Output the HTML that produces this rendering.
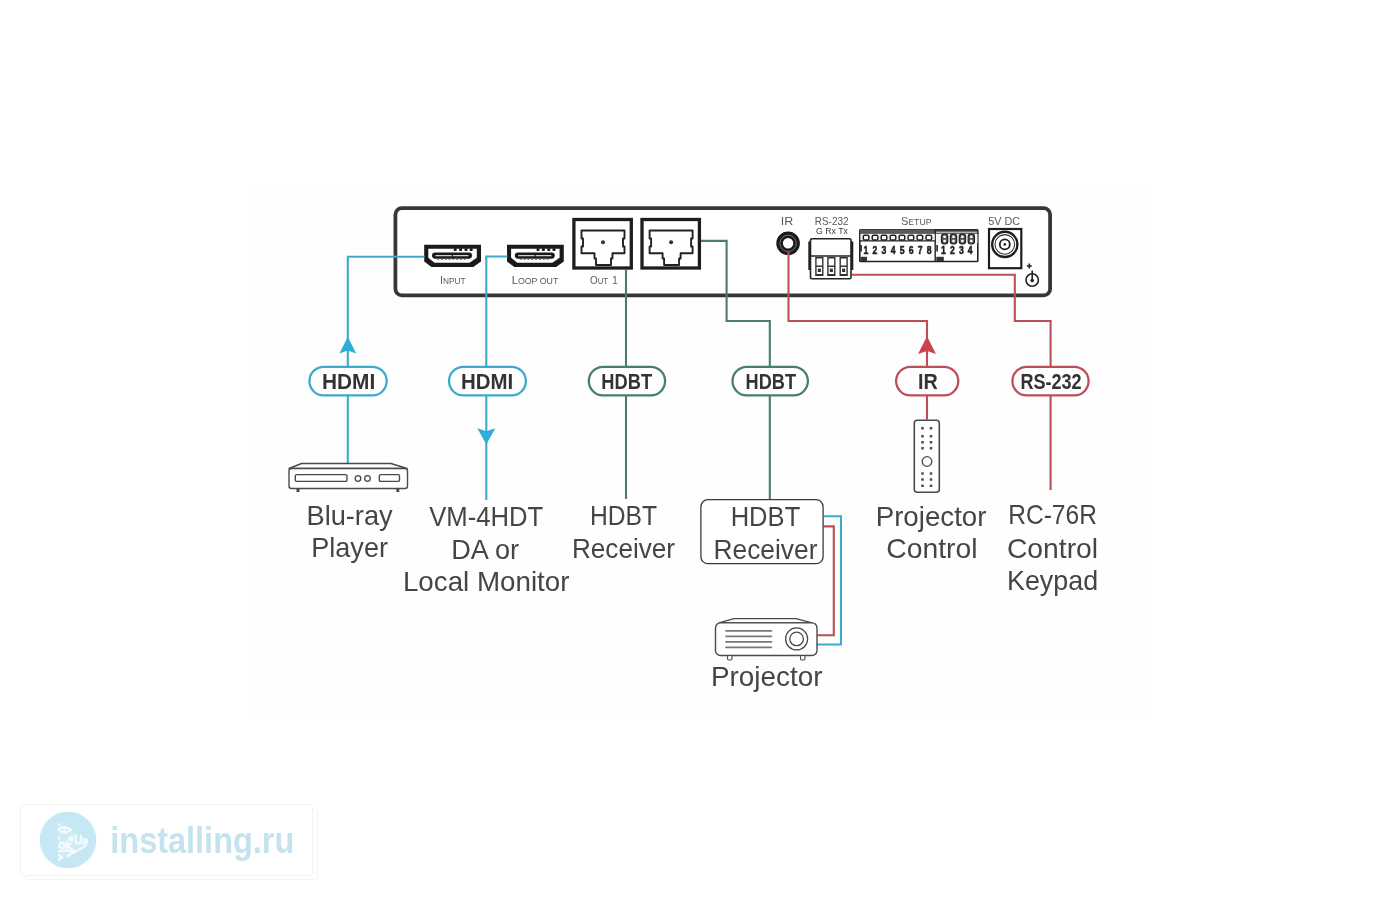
<!DOCTYPE html>
<html><head><meta charset="utf-8"><title>diagram</title>
<style>
html,body{margin:0;padding:0;background:#ffffff;}
body{width:1400px;height:900px;overflow:hidden;}
svg{display:block;font-family:"Liberation Sans", sans-serif;will-change:transform;}
</style></head><body>
<svg width="1400" height="900" viewBox="0 0 1400 900">
<rect x="0" y="0" width="1400" height="900" fill="#ffffff"/>
<rect x="248" y="186" width="904" height="534" fill="#fefefe"/>
<rect x="395.4" y="208.1" width="654.7" height="87.3" rx="6.5" fill="#ffffff" stroke="#373737" stroke-width="3.8"/>
<path d="M424.2 244.8 H481.0 V261.6 L473.3 267 H431.5 L424.2 261.6 Z" fill="#1a1a1a"/>
<path d="M428.3 248.8 H476.8 V257.8 L469.5 262.8 H434.5 L428.3 257.8 Z" fill="#ffffff"/>
<rect x="432.0" y="252.5" width="40" height="6.2" rx="3.1" fill="#1a1a1a"/>
<line x1="435.5" y1="255.6" x2="468.5" y2="255.6" stroke="#d0d0d0" stroke-width="1.2"/>
<line x1="452.3" y1="253" x2="452.3" y2="258" stroke="#1a1a1a" stroke-width="1.2"/>
<rect x="453.7" y="248.2" width="3" height="2.9" rx="0.8" fill="#1a1a1a"/>
<rect x="459.1" y="248.2" width="3" height="2.9" rx="0.8" fill="#1a1a1a"/>
<rect x="464.5" y="248.2" width="3" height="2.9" rx="0.8" fill="#1a1a1a"/>
<rect x="469.7" y="248.2" width="3" height="2.9" rx="0.8" fill="#1a1a1a"/>
<path d="M437.0 259.3 H467.0" stroke="#666" stroke-width="1.1" stroke-dasharray="2.2 1.6"/>
<path d="M507.0 244.8 H563.8 V261.6 L556.1 267 H514.3 L507.0 261.6 Z" fill="#1a1a1a"/>
<path d="M511.1 248.8 H559.6 V257.8 L552.3 262.8 H517.3 L511.1 257.8 Z" fill="#ffffff"/>
<rect x="514.8" y="252.5" width="40" height="6.2" rx="3.1" fill="#1a1a1a"/>
<line x1="518.3" y1="255.6" x2="551.3" y2="255.6" stroke="#d0d0d0" stroke-width="1.2"/>
<line x1="535.1" y1="253" x2="535.1" y2="258" stroke="#1a1a1a" stroke-width="1.2"/>
<rect x="536.5" y="248.2" width="3" height="2.9" rx="0.8" fill="#1a1a1a"/>
<rect x="541.9" y="248.2" width="3" height="2.9" rx="0.8" fill="#1a1a1a"/>
<rect x="547.3" y="248.2" width="3" height="2.9" rx="0.8" fill="#1a1a1a"/>
<rect x="552.5" y="248.2" width="3" height="2.9" rx="0.8" fill="#1a1a1a"/>
<path d="M519.8 259.3 H549.8" stroke="#666" stroke-width="1.1" stroke-dasharray="2.2 1.6"/>
<text x="440" y="284.4" textLength="25.5" lengthAdjust="spacingAndGlyphs" fill="#585858"><tspan font-size="11.2">I</tspan><tspan font-size="8.9">NPUT</tspan></text>
<text x="511.7" y="284.4" textLength="46.6" lengthAdjust="spacingAndGlyphs" fill="#585858"><tspan font-size="11.2">L</tspan><tspan font-size="8.9">OOP OUT</tspan></text>
<text x="590" y="284.2" textLength="27.8" lengthAdjust="spacingAndGlyphs" fill="#585858"><tspan font-size="11.2">O</tspan><tspan font-size="8.9">UT  </tspan><tspan font-size="11.2">1</tspan></text>
<rect x="573.9" y="219.5" width="57.4" height="48.5" fill="#ffffff" stroke="#1e1e1e" stroke-width="3.3"/>
<path d="M581.5 230.5 H624.5 V238.5 H623.0 V246.5 H624.5 V253.2 H612.5 V258.5 H611.0 V265 H596.0 V258.5 H594.5 V253.2 H581.5 V246.5 H583.0 V238.5 H581.5 Z" fill="#ffffff" stroke="#222" stroke-width="1.9" stroke-linejoin="round"/>
<circle cx="603.0" cy="242.2" r="2.0" fill="#333"/>
<rect x="642.0" y="219.5" width="57.4" height="48.5" fill="#ffffff" stroke="#1e1e1e" stroke-width="3.3"/>
<path d="M649.6 230.5 H692.6 V238.5 H691.1 V246.5 H692.6 V253.2 H680.6 V258.5 H679.1 V265 H664.1 V258.5 H662.6 V253.2 H649.6 V246.5 H651.1 V238.5 H649.6 Z" fill="#ffffff" stroke="#222" stroke-width="1.9" stroke-linejoin="round"/>
<circle cx="671.1" cy="242.2" r="2.0" fill="#333"/>
<text x="780.75" y="224.8" textLength="12.5" lengthAdjust="spacingAndGlyphs" font-size="10.3" font-weight="normal" fill="#585858" >IR</text>
<text x="814.84" y="224.8" textLength="33.63" lengthAdjust="spacingAndGlyphs" font-size="10.3" font-weight="normal" fill="#585858" >RS-232</text>
<text x="816.0" y="233.7" textLength="32.0" lengthAdjust="spacingAndGlyphs" font-size="9.6" font-weight="normal" fill="#404040" >G Rx Tx</text>
<text x="901" y="225" textLength="30.5" lengthAdjust="spacingAndGlyphs" fill="#585858"><tspan font-size="11.2">S</tspan><tspan font-size="8.9">ETUP</tspan></text>
<text x="988.23" y="224.5" textLength="31.95" lengthAdjust="spacingAndGlyphs" font-size="10.3" font-weight="normal" fill="#585858" >5V DC</text>
<circle cx="788.1" cy="243.3" r="8.5" fill="#ffffff" stroke="#1a1a1a" stroke-width="6.6"/>
<circle cx="788.1" cy="243.3" r="8.2" fill="none" stroke="#8a8a8a" stroke-width="0.8"/>
<rect x="808.3" y="241.5" width="3.4" height="28.5" fill="#222"/>
<rect x="849.9" y="241.5" width="3.4" height="28.5" fill="#222"/>
<rect x="810.5" y="238.8" width="40.5" height="40" rx="1.5" fill="#ffffff" stroke="#222" stroke-width="1.6"/>
<line x1="810.5" y1="256" x2="851" y2="256" stroke="#222" stroke-width="1.6"/>
<rect x="815.2" y="257" width="8.3" height="19" fill="#333"/>
<rect x="816.6" y="258.5" width="5.5" height="7" fill="#ffffff"/>
<rect x="816.6" y="267" width="5.5" height="7" fill="#ffffff"/>
<rect x="817.8000000000001" y="268.6" width="3.1" height="3.4" fill="#333"/>
<rect x="827.2" y="257" width="8.3" height="19" fill="#333"/>
<rect x="828.6" y="258.5" width="5.5" height="7" fill="#ffffff"/>
<rect x="828.6" y="267" width="5.5" height="7" fill="#ffffff"/>
<rect x="829.8000000000001" y="268.6" width="3.1" height="3.4" fill="#333"/>
<rect x="839.5" y="257" width="8.3" height="19" fill="#333"/>
<rect x="840.9" y="258.5" width="5.5" height="7" fill="#ffffff"/>
<rect x="840.9" y="267" width="5.5" height="7" fill="#ffffff"/>
<rect x="842.1" y="268.6" width="3.1" height="3.4" fill="#333"/>
<rect x="859.8" y="229.8" width="118" height="31.7" rx="0.8" fill="#ffffff" stroke="#222" stroke-width="1.6"/>
<rect x="859.8" y="229.5" width="76" height="4.4" fill="#5a5a5a"/>
<rect x="935.8" y="229.5" width="42" height="2.2" fill="#3a3a3a"/>
<rect x="936" y="232.6" width="41.5" height="1.2" fill="#444"/>
<line x1="935.2" y1="229.5" x2="935.2" y2="261.5" stroke="#222" stroke-width="1.4"/>
<rect x="860.6" y="234" width="74" height="7" fill="#efefef"/>
<rect x="863.3000000000001" y="235.3" width="5.6" height="4.8" rx="1.4" fill="#ffffff" stroke="#222" stroke-width="1.5"/>
<rect x="872.2600000000001" y="235.3" width="5.6" height="4.8" rx="1.4" fill="#ffffff" stroke="#222" stroke-width="1.5"/>
<rect x="881.22" y="235.3" width="5.6" height="4.8" rx="1.4" fill="#ffffff" stroke="#222" stroke-width="1.5"/>
<rect x="890.1800000000001" y="235.3" width="5.6" height="4.8" rx="1.4" fill="#ffffff" stroke="#222" stroke-width="1.5"/>
<rect x="899.1400000000001" y="235.3" width="5.6" height="4.8" rx="1.4" fill="#ffffff" stroke="#222" stroke-width="1.5"/>
<rect x="908.1" y="235.3" width="5.6" height="4.8" rx="1.4" fill="#ffffff" stroke="#222" stroke-width="1.5"/>
<rect x="917.0600000000001" y="235.3" width="5.6" height="4.8" rx="1.4" fill="#ffffff" stroke="#222" stroke-width="1.5"/>
<rect x="926.0200000000001" y="235.3" width="5.6" height="4.8" rx="1.4" fill="#ffffff" stroke="#222" stroke-width="1.5"/>
<line x1="860" y1="240.8" x2="935" y2="240.8" stroke="#222" stroke-width="1.2"/>
<rect x="936" y="234" width="41.5" height="9" fill="#f2f2f2"/>
<rect x="941.5" y="234.2" width="6.2" height="9.6" rx="2.4" fill="#555" stroke="#222" stroke-width="1.2"/>
<rect x="943.4" y="235.6" width="2.4" height="2.4" fill="#ffffff"/>
<rect x="943.4" y="239.8" width="2.4" height="2.4" fill="#ffffff"/>
<rect x="950.4" y="234.2" width="6.2" height="9.6" rx="2.4" fill="#555" stroke="#222" stroke-width="1.2"/>
<rect x="952.3" y="235.6" width="2.4" height="2.4" fill="#ffffff"/>
<rect x="952.3" y="239.8" width="2.4" height="2.4" fill="#ffffff"/>
<rect x="959.3" y="234.2" width="6.2" height="9.6" rx="2.4" fill="#555" stroke="#222" stroke-width="1.2"/>
<rect x="961.1999999999999" y="235.6" width="2.4" height="2.4" fill="#ffffff"/>
<rect x="961.1999999999999" y="239.8" width="2.4" height="2.4" fill="#ffffff"/>
<rect x="968.2" y="234.2" width="6.2" height="9.6" rx="2.4" fill="#555" stroke="#222" stroke-width="1.2"/>
<rect x="970.1" y="235.6" width="2.4" height="2.4" fill="#ffffff"/>
<rect x="970.1" y="239.8" width="2.4" height="2.4" fill="#ffffff"/>
<text x="863.5" y="253.9" textLength="4.8" lengthAdjust="spacingAndGlyphs" font-size="10.2" font-weight="bold" fill="#1e1e1e" stroke="#1e1e1e" stroke-width="0.5">1</text>
<text x="872.55" y="253.9" textLength="4.8" lengthAdjust="spacingAndGlyphs" font-size="10.2" font-weight="bold" fill="#1e1e1e" stroke="#1e1e1e" stroke-width="0.5">2</text>
<text x="881.6" y="253.9" textLength="4.8" lengthAdjust="spacingAndGlyphs" font-size="10.2" font-weight="bold" fill="#1e1e1e" stroke="#1e1e1e" stroke-width="0.5">3</text>
<text x="890.65" y="253.9" textLength="4.8" lengthAdjust="spacingAndGlyphs" font-size="10.2" font-weight="bold" fill="#1e1e1e" stroke="#1e1e1e" stroke-width="0.5">4</text>
<text x="899.7" y="253.9" textLength="4.8" lengthAdjust="spacingAndGlyphs" font-size="10.2" font-weight="bold" fill="#1e1e1e" stroke="#1e1e1e" stroke-width="0.5">5</text>
<text x="908.75" y="253.9" textLength="4.8" lengthAdjust="spacingAndGlyphs" font-size="10.2" font-weight="bold" fill="#1e1e1e" stroke="#1e1e1e" stroke-width="0.5">6</text>
<text x="917.8" y="253.9" textLength="4.8" lengthAdjust="spacingAndGlyphs" font-size="10.2" font-weight="bold" fill="#1e1e1e" stroke="#1e1e1e" stroke-width="0.5">7</text>
<text x="926.85" y="253.9" textLength="4.8" lengthAdjust="spacingAndGlyphs" font-size="10.2" font-weight="bold" fill="#1e1e1e" stroke="#1e1e1e" stroke-width="0.5">8</text>
<text x="941.0" y="253.9" textLength="4.8" lengthAdjust="spacingAndGlyphs" font-size="10.2" font-weight="bold" fill="#1e1e1e" stroke="#1e1e1e" stroke-width="0.5">1</text>
<text x="949.95" y="253.9" textLength="4.8" lengthAdjust="spacingAndGlyphs" font-size="10.2" font-weight="bold" fill="#1e1e1e" stroke="#1e1e1e" stroke-width="0.5">2</text>
<text x="958.9" y="253.9" textLength="4.8" lengthAdjust="spacingAndGlyphs" font-size="10.2" font-weight="bold" fill="#1e1e1e" stroke="#1e1e1e" stroke-width="0.5">3</text>
<text x="967.85" y="253.9" textLength="4.8" lengthAdjust="spacingAndGlyphs" font-size="10.2" font-weight="bold" fill="#1e1e1e" stroke="#1e1e1e" stroke-width="0.5">4</text>
<rect x="860.5" y="256.8" width="6.5" height="4.2" fill="#333"/>
<rect x="936.3" y="256.8" width="7.5" height="4.2" fill="#333"/>
<rect x="860.3" y="245" width="1.6" height="6.5" fill="#222"/>
<rect x="936.3" y="245" width="1.6" height="6.5" fill="#222"/>
<rect x="989" y="229" width="32.3" height="39.2" fill="#ffffff" stroke="#1e1e1e" stroke-width="2.2"/>
<circle cx="1004.8" cy="244.4" r="12.6" fill="#ffffff" stroke="#1e1e1e" stroke-width="2.4"/>
<circle cx="1004.8" cy="244.4" r="9.8" fill="none" stroke="#333" stroke-width="1.1"/>
<circle cx="1004.8" cy="244.4" r="5" fill="none" stroke="#1e1e1e" stroke-width="1.8"/>
<circle cx="1004.8" cy="244.4" r="1.3" fill="#1e1e1e"/>
<path d="M1026.8 266 H1031.8 M1029.3 263.5 V268.5" stroke="#222" stroke-width="1.6"/>
<circle cx="1032.2" cy="280" r="6.2" fill="none" stroke="#222" stroke-width="1.6"/>
<line x1="1032.2" y1="270.5" x2="1032.2" y2="280" stroke="#222" stroke-width="1.6"/>
<circle cx="1032.2" cy="280.5" r="1.8" fill="#222"/>
<path d="M424.5 256.8 L347.8 256.8 L347.8 463.5" fill="none" stroke="#3eaacb" stroke-width="2.1" stroke-linejoin="miter"/>
<path d="M507.5 256.5 L486.3 256.5 L486.3 500" fill="none" stroke="#3eaacb" stroke-width="2.1" stroke-linejoin="miter"/>
<path d="M626 269.5 L626 499" fill="none" stroke="#4a7d6a" stroke-width="2.1" stroke-linejoin="miter"/>
<path d="M701 240.9 L726.6 240.9 L726.6 321 L769.8 321 L769.8 499" fill="none" stroke="#4a7d6a" stroke-width="2.1" stroke-linejoin="miter"/>
<path d="M788.5 252 L788.5 321 L927 321 L927 419.5" fill="none" stroke="#bb4f57" stroke-width="2.1" stroke-linejoin="miter"/>
<path d="M852 274.8 L1014.8 274.8 L1014.8 321 L1050.6 321 L1050.6 490" fill="none" stroke="#bb4f57" stroke-width="2.1" stroke-linejoin="miter"/>
<path d="M823.5 516.2 L841 516.2 L841 644.5 L817 644.5" fill="none" stroke="#3eaacb" stroke-width="2.1" stroke-linejoin="miter"/>
<path d="M823.5 526.4 L833.8 526.4 L833.8 635.2 L817 635.2" fill="none" stroke="#bb4f57" stroke-width="2.1" stroke-linejoin="miter"/>
<path d="M347.8 336.7 L356.2 353.5 L347.8 350.5 L339.40000000000003 353.5 Z" fill="#2eadd5"/>
<path d="M486.3 444.5 L495.3 428.2 L486.3 431.2 L477.3 428.2 Z" fill="#2eadd5"/>
<path d="M927 336.3 L936 354 L927 351 L918 354 Z" fill="#c9424c"/>
<rect x="309.40000000000003" y="366.8" width="77.3" height="28.6" rx="14.3" fill="#ffffff" stroke="#3eaacb" stroke-width="2.3"/>
<text x="322.02" y="388.7" textLength="53.23" lengthAdjust="spacingAndGlyphs" font-size="21.4" font-weight="bold" fill="#333333" >HDMI</text>
<rect x="449.0" y="366.8" width="76.90000000000002" height="28.6" rx="14.3" fill="#ffffff" stroke="#3eaacb" stroke-width="2.3"/>
<text x="460.88" y="388.7" textLength="52.26" lengthAdjust="spacingAndGlyphs" font-size="21.4" font-weight="bold" fill="#333333" >HDMI</text>
<rect x="588.8000000000001" y="366.8" width="76.3" height="28.6" rx="14.3" fill="#ffffff" stroke="#4a7d6a" stroke-width="2.3"/>
<text x="601.37" y="388.7" textLength="50.69" lengthAdjust="spacingAndGlyphs" font-size="21.4" font-weight="bold" fill="#333333" >HDBT</text>
<rect x="732.5" y="366.8" width="75.40000000000002" height="28.6" rx="14.3" fill="#ffffff" stroke="#4a7d6a" stroke-width="2.3"/>
<text x="745.62" y="388.7" textLength="50.44" lengthAdjust="spacingAndGlyphs" font-size="21.4" font-weight="bold" fill="#333333" >HDBT</text>
<rect x="896.1" y="366.8" width="62.199999999999974" height="28.6" rx="14.3" fill="#ffffff" stroke="#bb4f57" stroke-width="2.3"/>
<text x="918.09" y="388.7" textLength="19.79" lengthAdjust="spacingAndGlyphs" font-size="21.4" font-weight="bold" fill="#333333" >IR</text>
<rect x="1012.4" y="366.8" width="76.20000000000009" height="28.6" rx="14.3" fill="#ffffff" stroke="#bb4f57" stroke-width="2.3"/>
<text x="1020.4" y="388.7" textLength="61.17" lengthAdjust="spacingAndGlyphs" font-size="21.4" font-weight="bold" fill="#333333" >RS-232</text>
<path d="M301.5 463.5 H391 L407 468.5 H289 Z" fill="#ffffff" stroke="#4a4a4a" stroke-width="1.4" stroke-linejoin="round"/>
<rect x="289" y="468.5" width="118.5" height="20" rx="2.5" fill="#ffffff" stroke="#4a4a4a" stroke-width="1.4"/>
<rect x="295.3" y="474.6" width="51.7" height="6.8" rx="1.5" fill="none" stroke="#4a4a4a" stroke-width="1.4"/>
<circle cx="358" cy="478.5" r="2.8" fill="none" stroke="#4a4a4a" stroke-width="1.3"/>
<circle cx="367.5" cy="478.5" r="2.8" fill="none" stroke="#4a4a4a" stroke-width="1.3"/>
<rect x="379.3" y="474.6" width="20.2" height="6.8" rx="1.5" fill="none" stroke="#4a4a4a" stroke-width="1.4"/>
<rect x="296.5" y="489" width="3" height="3" fill="#4a4a4a"/>
<rect x="396.3" y="489" width="3" height="3" fill="#4a4a4a"/>
<rect x="914.3" y="420.3" width="25" height="72" rx="3" fill="#ffffff" stroke="#4a4a4a" stroke-width="1.6"/>
<rect x="921.2" y="427.0" width="2.6" height="2.4" rx="0.5" fill="#505050"/>
<rect x="929.7" y="427.0" width="2.6" height="2.4" rx="0.5" fill="#505050"/>
<rect x="921.2" y="435.0" width="2.6" height="2.4" rx="0.5" fill="#505050"/>
<rect x="929.7" y="435.0" width="2.6" height="2.4" rx="0.5" fill="#505050"/>
<rect x="921.2" y="441.0" width="2.6" height="2.4" rx="0.5" fill="#505050"/>
<rect x="929.7" y="441.0" width="2.6" height="2.4" rx="0.5" fill="#505050"/>
<rect x="921.2" y="447.0" width="2.6" height="2.4" rx="0.5" fill="#505050"/>
<rect x="929.7" y="447.0" width="2.6" height="2.4" rx="0.5" fill="#505050"/>
<rect x="921.2" y="472.3" width="2.6" height="2.4" rx="0.5" fill="#505050"/>
<rect x="929.7" y="472.3" width="2.6" height="2.4" rx="0.5" fill="#505050"/>
<rect x="921.2" y="478.3" width="2.6" height="2.4" rx="0.5" fill="#505050"/>
<rect x="929.7" y="478.3" width="2.6" height="2.4" rx="0.5" fill="#505050"/>
<rect x="921.2" y="484.6" width="2.6" height="2.4" rx="0.5" fill="#505050"/>
<rect x="929.7" y="484.6" width="2.6" height="2.4" rx="0.5" fill="#505050"/>
<circle cx="927" cy="461.5" r="4.8" fill="none" stroke="#4a4a4a" stroke-width="1.3"/>
<rect x="700.9" y="499.7" width="122.2" height="64" rx="7" fill="#ffffff" stroke="#3c3c3c" stroke-width="1.3"/>
<path d="M734 618.6 H796 L812 622.9 H719 Z" fill="#ffffff" stroke="#4a4a4a" stroke-width="1.4" stroke-linejoin="round"/>
<rect x="715.5" y="622.9" width="101.5" height="32.6" rx="5" fill="#ffffff" stroke="#4a4a4a" stroke-width="1.4"/>
<line x1="726" y1="630.9" x2="771.4" y2="630.9" stroke="#777" stroke-width="1.7" stroke-linecap="round"/>
<line x1="726" y1="636.3" x2="771.4" y2="636.3" stroke="#777" stroke-width="1.7" stroke-linecap="round"/>
<line x1="726" y1="641.8" x2="771.4" y2="641.8" stroke="#777" stroke-width="1.7" stroke-linecap="round"/>
<line x1="726" y1="647.3" x2="771.4" y2="647.3" stroke="#777" stroke-width="1.7" stroke-linecap="round"/>
<circle cx="796.6" cy="638.9" r="11" fill="#ffffff" stroke="#4a4a4a" stroke-width="1.3"/>
<circle cx="796.6" cy="638.9" r="6.8" fill="none" stroke="#4a4a4a" stroke-width="1.3"/>
<rect x="727.5" y="655.5" width="4.5" height="4.5" rx="1.5" fill="#ffffff" stroke="#4a4a4a" stroke-width="1.1"/>
<rect x="800.5" y="655.5" width="4.5" height="4.5" rx="1.5" fill="#ffffff" stroke="#4a4a4a" stroke-width="1.1"/>
<text x="306.51" y="524.5" textLength="86.14" lengthAdjust="spacingAndGlyphs" font-size="27.2" font-weight="normal" fill="#454545" >Blu-ray</text>
<text x="311.25" y="557.1" textLength="76.68" lengthAdjust="spacingAndGlyphs" font-size="27.2" font-weight="normal" fill="#454545" >Player</text>
<text x="429.17" y="525.5" textLength="114.07" lengthAdjust="spacingAndGlyphs" font-size="27.2" font-weight="normal" fill="#454545" >VM-4HDT</text>
<text x="451.29" y="558.7" textLength="67.77" lengthAdjust="spacingAndGlyphs" font-size="27.2" font-weight="normal" fill="#454545" >DA or</text>
<text x="402.94" y="590.7" textLength="166.49" lengthAdjust="spacingAndGlyphs" font-size="27.2" font-weight="normal" fill="#454545" >Local Monitor</text>
<text x="589.91" y="524.5" textLength="67.16" lengthAdjust="spacingAndGlyphs" font-size="27.2" font-weight="normal" fill="#454545" >HDBT</text>
<text x="571.88" y="557.5" textLength="103.21" lengthAdjust="spacingAndGlyphs" font-size="27.2" font-weight="normal" fill="#454545" >Receiver</text>
<text x="730.63" y="525.8" textLength="69.63" lengthAdjust="spacingAndGlyphs" font-size="27.2" font-weight="normal" fill="#454545" >HDBT</text>
<text x="713.49" y="558.6" textLength="103.94" lengthAdjust="spacingAndGlyphs" font-size="27.2" font-weight="normal" fill="#454545" >Receiver</text>
<text x="875.69" y="525.6" textLength="110.76" lengthAdjust="spacingAndGlyphs" font-size="27.2" font-weight="normal" fill="#454545" >Projector</text>
<text x="886.28" y="558.0" textLength="91.24" lengthAdjust="spacingAndGlyphs" font-size="27.2" font-weight="normal" fill="#454545" >Control</text>
<text x="1008.23" y="524.4" textLength="88.69" lengthAdjust="spacingAndGlyphs" font-size="27.2" font-weight="normal" fill="#454545" >RC-76R</text>
<text x="1006.91" y="558.0" textLength="91.17" lengthAdjust="spacingAndGlyphs" font-size="27.2" font-weight="normal" fill="#454545" >Control</text>
<text x="1007.03" y="589.7" textLength="91.06" lengthAdjust="spacingAndGlyphs" font-size="27.2" font-weight="normal" fill="#454545" >Keypad</text>
<text x="710.92" y="685.5" textLength="111.54" lengthAdjust="spacingAndGlyphs" font-size="27.2" font-weight="normal" fill="#454545" >Projector</text>
<rect x="24.5" y="808.5" width="293" height="71" rx="3" fill="#ffffff" stroke="#f4f4f4" stroke-width="1"/>
<rect x="20.5" y="804.5" width="292" height="71" rx="3" fill="#ffffff" stroke="#f1f1f1" stroke-width="1"/>
<circle cx="68" cy="840" r="28.3" fill="#c6e7f4"/>
<path d="M57.5 822 L89 841 L57.5 861 Z" fill="#ffffff" opacity="0.22"/>
<g fill="none" stroke="#f4fbfe" stroke-width="2.1" stroke-linecap="round"><path d="M58.5 829.5 Q64.5 824.5 71 830 Q64.5 835 58.5 829.5 Z"/><circle cx="64.6" cy="829.8" r="1.3" fill="#f4fbfe" stroke="none"/><path d="M75.5 835.5 V840.5 Q75.5 843.5 78.3 843.5 Q81 843.5 81 840.5 V835.5"/><circle cx="62" cy="845.5" r="2.6"/><path d="M66.5 842 V849 M66.5 846.5 L70.5 843 M67.5 845.5 L70.5 849"/><path d="M58.5 851 H74 M71.5 849 L74 851 L71.5 853"/><path d="M67 856.5 L86 845.5"/><path d="M83.5 838.5 Q85.5 841.5 83.5 844.5 M86.3 839.5 Q87.8 841.5 86.3 843.5"/><path d="M59 855 L62 857.5 L59 860"/></g>
<path d="M58 822.5 L60.5 824.5 L58 826.5 Z M58 836 L61 838 L58 840 Z" fill="#f4fbfe"/>
<rect x="68.5" y="836.5" width="4.6" height="4.6" fill="#f4fbfe"/>
<text x="110.3" y="853.4" textLength="184" lengthAdjust="spacingAndGlyphs" font-size="36" font-weight="bold" fill="#c4e3ef" >installing.ru</text>
</svg>
</body></html>
